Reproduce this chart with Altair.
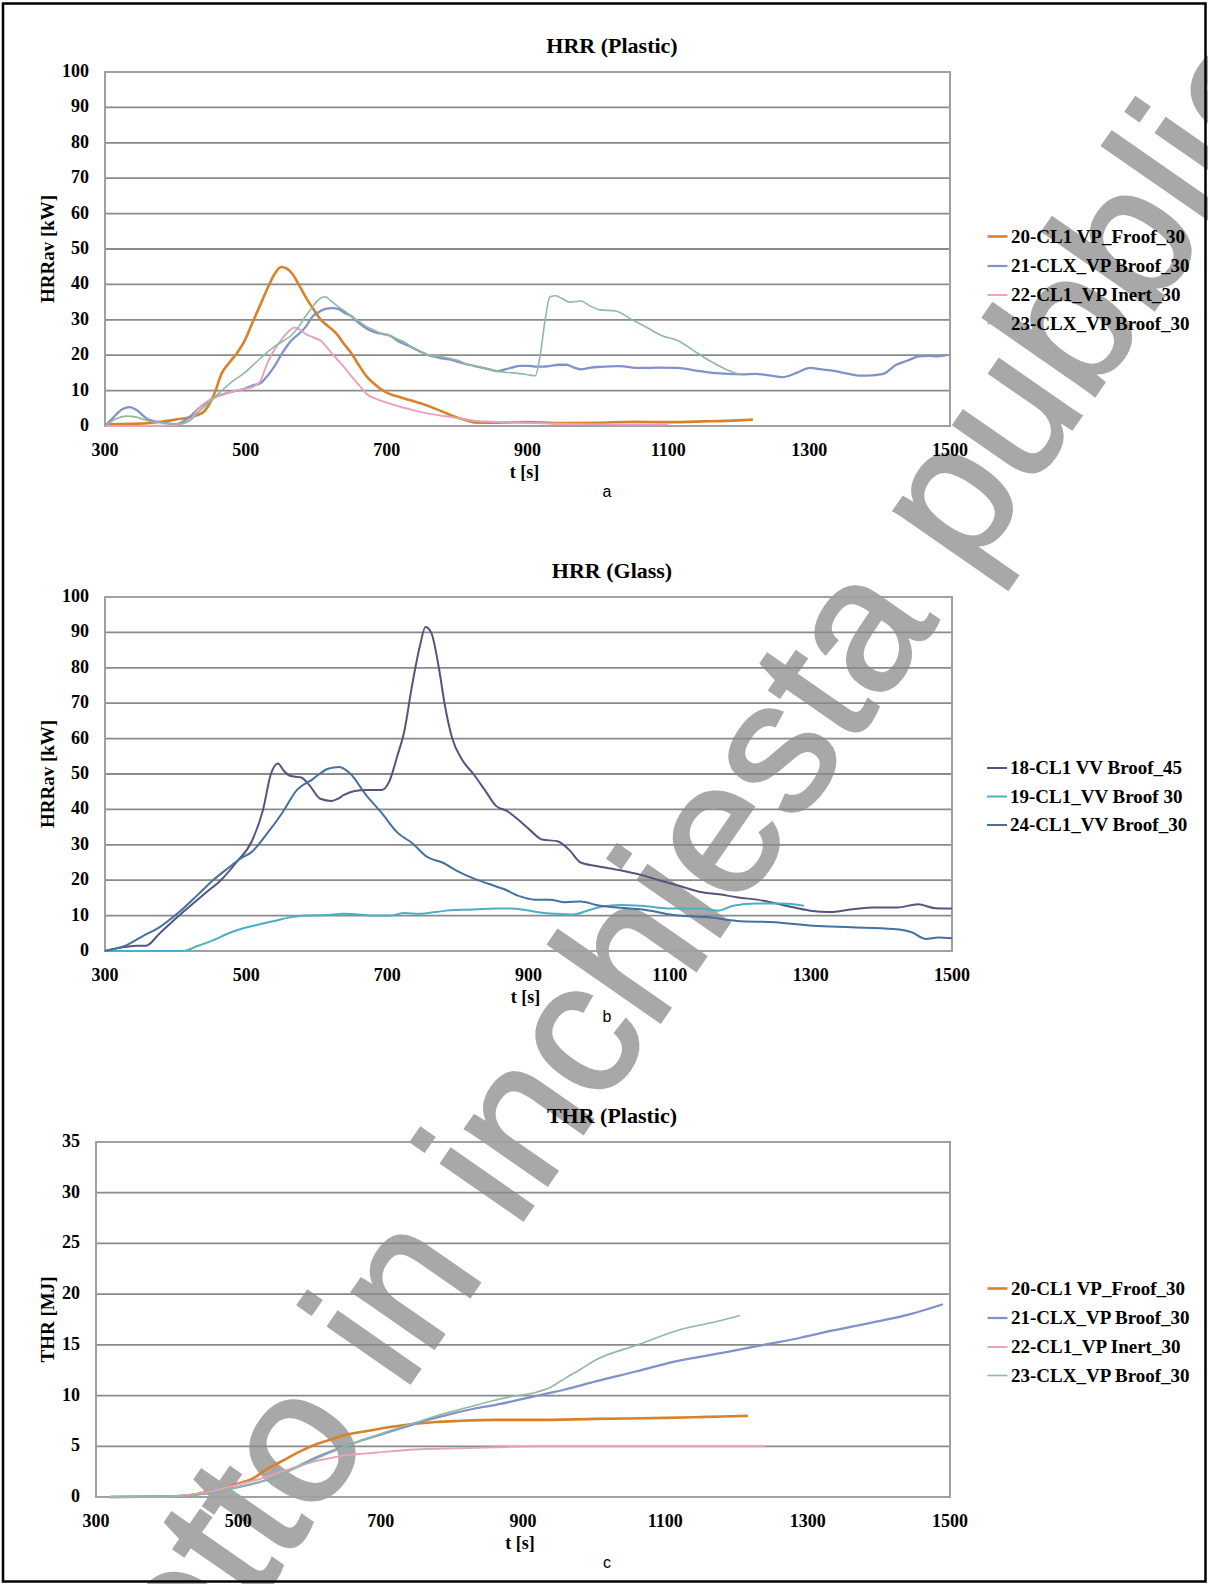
import altair as alt
import pandas as pd

W, H = 1208, 1584
SERIF = "Liberation Serif"
SANS = "Liberation Sans"

# ---------------- HRR (Plastic) ----------------
a_names = ["20-CL1 VP_Froof_30", "21-CLX_VP Broof_30", "22-CL1_VP Inert_30", "23-CLX_VP Broof_30"]

a20_t = [300, 340, 380, 400, 420, 440, 455, 466, 477, 487, 498, 509, 520, 531, 541, 550, 558, 566, 575, 585,
         596, 607, 618, 629, 640, 650, 661, 672, 683, 694, 705, 716, 730, 748, 765, 780, 792, 803, 815, 824,
         840, 870, 900, 950, 1000, 1050, 1100, 1150, 1200, 1220]
a20_v = [0.5, 0.6, 1.2, 1.8, 2.5, 4.0, 9, 15, 18, 20.5, 24, 29, 34, 39, 43, 44.9, 44.5, 43, 40, 36.4,
         33, 29.9, 28, 26, 23, 20.5, 17, 13.9, 11.8, 10.1, 9.0, 8.3, 7.5, 6.4, 5.2, 4.0, 3.0, 2.2, 1.5, 1.0,
         0.9, 1.0, 1.1, 0.8, 0.9, 1.2, 1.1, 1.3, 1.6, 1.8]

a21_t = [300, 310, 325, 335, 345, 360, 380, 400, 420, 433, 455, 477, 498, 510, 520, 530, 541, 553, 564, 575,
         585, 595, 602, 612, 623, 632, 640, 650, 661, 672, 683, 694, 705, 716, 727, 738, 748, 759, 770, 781,
         792, 803, 813, 824, 835, 846, 857, 868, 878, 889, 900, 911, 922, 933, 944, 955, 966, 976, 990, 1003,
         1030, 1059, 1085, 1113, 1141, 1163, 1185, 1205, 1224, 1243, 1262, 1282, 1301, 1318, 1335, 1354, 1373,
         1389, 1405, 1423, 1440, 1456, 1470, 1483, 1495]
a21_v = [0, 2, 4.8, 5.3, 4.5, 2.0, 1.0, 0.5, 2.5, 5, 8, 9.5, 10.5, 11.5, 12, 14, 17, 21, 24, 26,
         28, 31, 32, 33, 33.3, 33, 32, 31, 29, 27.5, 26.5, 26, 25.5, 24, 23, 22, 21, 20, 19.5, 19,
         18.7, 18, 17.5, 17, 16.5, 16, 15.5, 16, 16.5, 17, 17, 16.8, 16.8, 17, 17.3, 17.3, 16.5, 16, 16.5, 16.7,
         16.9, 16.4, 16.5, 16.4, 15.6, 15, 14.7, 14.6, 14.7, 14.3, 13.8, 15, 16.4, 16, 15.6, 14.8, 14.2,
         14.3, 14.7, 17.2, 18.5, 19.7, 19.8, 19.7, 20]

a22_t = [300, 350, 400, 420, 433, 455, 477, 498, 509, 520, 531, 542, 553, 562, 569, 577, 585, 596, 607, 618,
         629, 640, 650, 661, 672, 683, 694, 710, 727, 743, 759, 775, 792, 808, 824, 850, 880, 920, 960, 1000,
         1050, 1100]
a22_v = [0, 0, 0.3, 1.5, 5, 8, 9.5, 10.5, 11, 12.5, 18, 22, 25, 27, 27.8, 27.2, 26, 25, 24, 21.5,
         19, 16.5, 14, 11.5, 9, 7.8, 7, 6, 5, 4.2, 3.5, 3, 2.5, 2, 1.5, 1.2, 1.0, 0.8, 0.6, 0.5,
         0.4, 0.4]

a23_t = [300, 315, 330, 345, 360, 380, 400, 420, 433, 455, 477, 498, 520, 541, 553, 564, 575, 585, 594, 602,
         608, 613, 620, 629, 640, 650, 661, 672, 683, 694, 705, 716, 727, 737, 748, 759, 770, 780, 791, 802,
         813, 824, 835, 846, 857, 868, 878, 889, 900, 911, 918, 925, 932, 940, 949, 960, 976, 988, 1003, 1025,
         1047, 1069, 1091, 1114, 1136, 1158, 1180, 1195, 1205]
a23_v = [0, 2, 2.8, 2.5, 1.5, 1.0, 0.5, 1.5, 4, 8, 12, 15, 19, 22.5, 24, 25.5, 28, 31, 33.5, 35.5,
         36.3, 36.5, 35.5, 34, 32.5, 31, 29.5, 28, 27, 26, 25.5, 24.5, 23.5, 22, 21, 20, 19.8, 19.5, 19, 18.5,
         17.5, 17, 16.5, 16, 15.5, 15.2, 15, 14.8, 14.5, 14.2, 20, 30, 36.5, 36.8, 36, 35, 35.3, 34, 32.8, 32.5,
         30.2, 27.9, 25.5, 24.1, 21.3, 18.5, 16.2, 15, 14.5]

# ---------------- HRR (Glass) ----------------
b_names = ["18-CL1 VV Broof_45", "19-CL1_VV Broof 30", "24-CL1_VV Broof_30"]

b18_t = [300, 323, 345, 358, 377, 399, 421, 443, 464, 486, 508, 524, 535, 545, 553, 562, 578, 589, 605, 621,
         630, 638, 654, 670, 692, 703, 714, 724, 735, 746, 754, 762, 773, 781, 792, 806, 822, 838, 854, 870,
         886, 903, 919, 941, 958, 974, 996, 1030, 1059, 1085, 1112, 1146, 1170, 1195, 1233, 1265, 1299, 1327,
         1359, 1389, 1422, 1452, 1476, 1500]
b18_v = [0, 1, 1.5, 1.5, 4.9, 9, 12.8, 16.5, 20, 25, 31, 40, 50, 53, 51, 49.5, 49, 47, 43, 42.4,
         43, 44, 45.2, 45.5, 45.5, 48, 55, 62, 75, 86, 91.5, 90, 80, 70, 60, 54, 50, 45.5, 41, 39.5,
         37, 34, 31.5, 31, 28.5, 25, 24, 22.8, 21.5, 20, 18.5, 16.6, 16, 15.2, 14.2, 12.8, 11.4, 11,
         11.8, 12.3, 12.3, 13.2, 12.1, 12]

b19_t = [300, 350, 410, 432, 453, 475, 497, 518, 540, 562, 583, 616, 638, 659, 681, 703, 724, 746, 768, 789,
         822, 854, 876, 898, 919, 941, 963, 985, 1003, 1030, 1059, 1101, 1141, 1168, 1190, 1222, 1260, 1290]
b19_v = [0, 0, 0, 1.5, 3, 5, 6.5, 7.5, 8.5, 9.5, 10, 10.2, 10.5, 10.3, 10, 10, 10.7, 10.5, 11, 11.5,
         11.7, 12, 12, 11.5, 10.8, 10.5, 10.3, 11.5, 12.5, 13, 12.8, 12, 12, 11.4, 12.8, 13.4, 13.4, 12.8]

b24_t = [300, 329, 356, 377, 405, 432, 453, 475, 491, 508, 529, 551, 572, 594, 616, 632, 648, 670, 692, 714,
         735, 757, 778, 800, 822, 843, 865, 887, 909, 930, 952, 974, 996, 1030, 1059, 1112, 1155, 1195, 1249,
         1303, 1357, 1417, 1443, 1463, 1480, 1500]
b24_v = [0, 1.5, 4.5, 6.7, 11, 16, 20, 23.5, 26, 28, 33, 39, 45.5, 48.5, 51.5, 52, 50, 44, 39, 33.5,
         30.5, 26.5, 25, 22.5, 20.5, 19, 17.5, 15.5, 14.5, 14.5, 13.8, 14, 13, 12.2, 11.8, 10, 9.5, 8.5, 8.1,
         7.1, 6.7, 6.2, 5.3, 3.4, 3.8, 3.6]

# ---------------- THR (Plastic) ----------------
c20_t = [320, 400, 434, 455, 477, 498, 520, 541, 563, 584, 606, 627, 649, 681, 713, 745, 777, 809, 863, 917,
         1002, 1100, 1160, 1216]
c20_v = [0, 0.05, 0.2, 0.5, 0.8, 1.3, 1.8, 2.8, 3.6, 4.4, 5.1, 5.6, 6.1, 6.5, 6.9, 7.2, 7.4, 7.5, 7.6, 7.6,
         7.7, 7.8, 7.9, 8.0]

c21_t = [320, 400, 450, 488, 520, 541, 574, 606, 638, 670, 702, 734, 766, 799, 831, 863, 895, 927, 959, 1002,
         1060, 1116, 1180, 1238, 1290, 1334, 1390, 1443, 1490]
c21_v = [0, 0.05, 0.3, 0.8, 1.3, 1.7, 2.7, 3.8, 4.7, 5.5, 6.2, 6.9, 7.6, 8.2, 8.7, 9.1, 9.6, 10.1, 10.6, 11.4,
         12.4, 13.4, 14.2, 15.0, 15.7, 16.4, 17.2, 18.0, 19.0]

c22_t = [320, 400, 450, 498, 541, 574, 606, 627, 649, 681, 713, 756, 809, 863, 917, 1000, 1070, 1150, 1240]
c22_v = [0, 0.05, 0.4, 1.2, 2, 2.8, 3.5, 3.8, 4.1, 4.3, 4.5, 4.7, 4.8, 4.9, 5.0, 5.0, 5.0, 5.0, 5.0]

c23_t = [320, 400, 450, 488, 531, 563, 595, 627, 659, 691, 724, 756, 788, 820, 852, 884, 917, 938, 959, 981,
         1002, 1061, 1116, 1172, 1205]
c23_v = [0, 0.05, 0.3, 0.8, 1.5, 2.3, 3.3, 4.3, 5.2, 6.0, 6.8, 7.5, 8.2, 8.8, 9.4, 9.9, 10.3, 10.8, 11.7, 12.6,
         13.5, 15.0, 16.4, 17.3, 17.9]

x_ticks = [300, 500, 700, 900, 1100, 1300, 1500]
hrr_ticks = [0, 10, 20, 30, 40, 50, 60, 70, 80, 90, 100]
thr_ticks = [0, 5, 10, 15, 20, 25, 30, 35]

plastic_colors = ["#D9822B", "#8391C9", "#E6A3BD", "#8FB9A0"]
plastic_widths = [2.6, 1.6, 1.6, 1.6]
glass_colors = ["#58527F", "#49B0C4", "#45709F"]
glass_widths = [2.0, 2.0, 2.0]

WATERMARK = "Progetto in inchiesta pubblica"


def long_table(names, pairs):
    rows = []
    for name, (ts, vs) in zip(names, pairs):
        for t, v in zip(ts, vs):
            rows.append({"t": t, "v": v, "series": name})
    return pd.DataFrame(rows)


def label(text, x, y, size, angle=0, font=SERIF, weight="bold"):
    return alt.Chart(pd.DataFrame({"s": [text]})).mark_text(
        font=font, fontSize=size, fontWeight=weight, color="black",
        align="center", baseline="middle", angle=angle,
    ).encode(x=alt.value(x), y=alt.value(y), text="s:N")


def panel(table, names, colors, widths, yticks, xpix, ypix, title, ytitle, caption, legend_y):
    ymax = yticks[-1]
    xs = alt.Scale(domain=[300, 1500], range=list(xpix), nice=False, zero=False)
    ys = alt.Scale(domain=[0, ymax], range=[ypix[1], ypix[0]], nice=False, zero=False)
    X = lambda f: alt.X(f, scale=xs, axis=None)
    Y = lambda f: alt.Y(f, scale=ys, axis=None)

    grid_df = pd.DataFrame({"v": yticks, "t0": 300, "t1": 1500})
    grid = alt.Chart(grid_df).mark_rule(color="#8a8a8a", strokeWidth=1.8).encode(
        x=X("t0:Q"), x2="t1:Q", y=Y("v:Q"))

    frame_df = pd.DataFrame({"t0": [300], "t1": [1500], "v0": [0], "v1": [ymax]})
    frame = alt.Chart(frame_df).mark_rect(fillOpacity=0, stroke="#a0a0a0", strokeWidth=2).encode(
        x=X("t0:Q"), x2="t1:Q", y=Y("v0:Q"), y2="v1:Q")

    ylab = alt.Chart(pd.DataFrame({"v": yticks, "t": 300})).mark_text(
        font=SERIF, fontWeight="bold", fontSize=18, align="right", baseline="middle", dx=-16, color="black",
    ).encode(x=X("t:Q"), y=Y("v:Q"), text="v:Q")

    xlab = alt.Chart(pd.DataFrame({"t": x_ticks, "v": 0})).mark_text(
        font=SERIF, fontWeight="bold", fontSize=18, align="center", baseline="middle", dy=25, color="black",
    ).encode(x=X("t:Q"), y=Y("v:Q"), text="t:Q")

    lines = alt.Chart(table).mark_line(interpolate="monotone").encode(
        x=X("t:Q"), y=Y("v:Q"),
        color=alt.Color("series:N", scale=alt.Scale(domain=names, range=colors), legend=alt.Legend(
            orient="none", legendX=986, legendY=legend_y, direction="vertical", title=None,
            labelFont=SERIF, labelFontWeight="bold", labelFontSize=19, labelColor="black",
            labelOffset=2, labelLimit=400, symbolType="stroke", symbolSize=400,
            symbolStrokeWidth=1.5, rowPadding=7.5, padding=0)),
        strokeWidth=alt.StrokeWidth("series:N", scale=alt.Scale(domain=names, range=widths), legend=None),
    )

    plot_mid_x = (xpix[0] + xpix[1]) / 2
    texts = [
        label(title, 612, ypix[0] - 26, 22),
        label(ytitle, 48, (ypix[0] + ypix[1]) / 2, 19, angle=270),
        label("t [s]", plot_mid_x - 3, ypix[1] + 47, 18),
        label(caption, 607, ypix[1] + 66, 16, font=SANS, weight="normal"),
    ]
    return alt.layer(grid, frame, lines, ylab, xlab, *texts)


table_a = long_table(a_names, [(a20_t, a20_v), (a21_t, a21_v), (a22_t, a22_v), (a23_t, a23_v)])
table_b = long_table(b_names, [(b18_t, b18_v), (b19_t, b19_v), (b24_t, b24_v)])
table_c = long_table(a_names, [(c20_t, c20_v), (c21_t, c21_v), (c22_t, c22_v), (c23_t, c23_v)])

pa = panel(table_a, a_names, plastic_colors, plastic_widths, hrr_ticks, (105, 950), (72, 426),
           "HRR (Plastic)", "HRRav [kW]", "a", 225)
pb = panel(table_b, b_names, glass_colors, glass_widths, hrr_ticks, (105, 952), (597, 951),
           "HRR (Glass)", "HRRav [kW]", "b", 757)
pc = panel(table_c, a_names, plastic_colors, plastic_widths, thr_ticks, (96, 950), (1142, 1497),
           "THR (Plastic)", "THR [MJ]", "c", 1277)

border = alt.Chart(pd.DataFrame({"k": [0]})).mark_rect(
    fillOpacity=0, stroke="black", strokeWidth=2.5,
).encode(x=alt.value(3), x2=alt.value(1205.5), y=alt.value(3.5), y2=alt.value(1581.5))

# diagonal stamp across the page, drawn underneath the charts
watermark = alt.Chart(pd.DataFrame({"s": [WATERMARK]})).mark_text(
    font=SANS, fontSize=188, angle=304.75, color="#a8a8a8", stroke="#a8a8a8", strokeWidth=3,
    clip=True, align="center", baseline="middle",
).encode(x=alt.value(622), y=alt.value(979), text="s:N")

chart = alt.layer(watermark, pa, pb, pc, border).resolve_scale(
    x="independent", y="independent", color="independent", strokeWidth="independent",
).properties(
    width=W, height=H, padding=0, background="white",
    autosize=alt.AutoSizeParams(type="fit", contains="padding"),
).configure_view(strokeWidth=0)

chart.save("out.html", embed_options={"renderer": "svg", "actions": False})
